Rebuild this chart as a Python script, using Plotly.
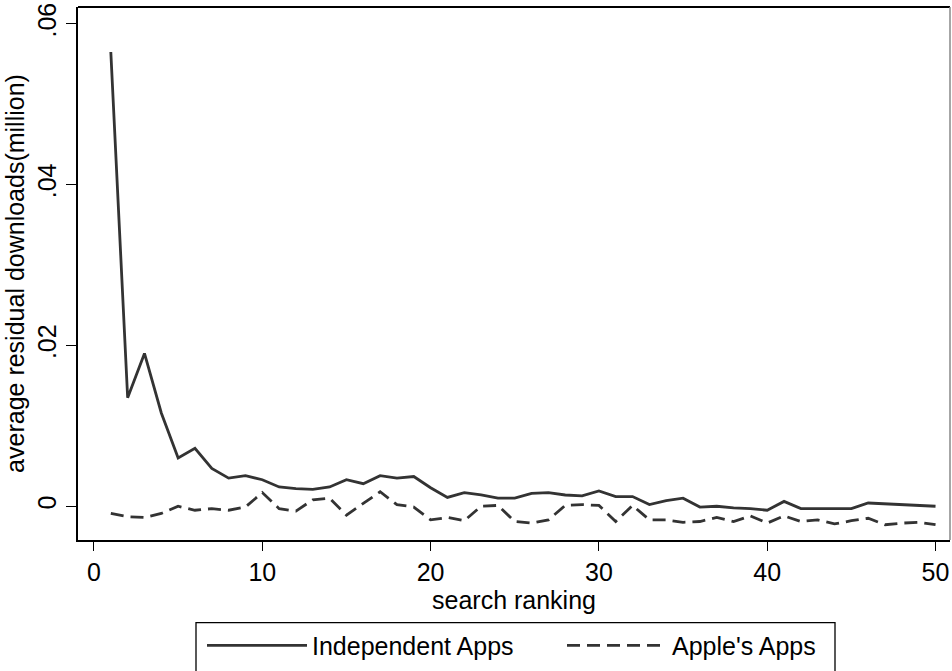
import plotly.graph_objects as go

ranking = list(range(1, 51))
independent = [0.0565, 0.0135, 0.0190, 0.0116, 0.0060, 0.0072, 0.0047, 0.0035, 0.0038, 0.0033,
               0.0024, 0.0022, 0.0021, 0.0024, 0.0033, 0.0028, 0.0038, 0.0035, 0.0037, 0.0023,
               0.0011, 0.0017, 0.0014, 0.0010, 0.0010, 0.0016, 0.0017, 0.0014, 0.0013, 0.0019,
               0.0012, 0.0012, 0.0002, 0.0007, 0.0010, -0.0001, 0.0000, -0.0002, -0.0003, -0.0005,
               0.0006, -0.0003, -0.0003, -0.0003, -0.0003, 0.0004, 0.0003, 0.0002, 0.0001, 0.0000]
apple = [-0.0009, -0.0013, -0.0014, -0.0009, 0.0000, -0.0005, -0.0003, -0.0005, -0.0001, 0.0017,
         -0.0003, -0.0006, 0.0008, 0.0010, -0.0011, 0.0003, 0.0018, 0.0002, -0.0001, -0.0017,
         -0.0014, -0.0018, 0.0000, 0.0001, -0.0019, -0.0021, -0.0017, 0.0001, 0.0002, 0.0001,
         -0.0019, 0.0001, -0.0017, -0.0017, -0.0020, -0.0019, -0.0014, -0.0019, -0.0012, -0.0021,
         -0.0012, -0.0019, -0.0017, -0.0022, -0.0018, -0.0015, -0.0023, -0.0021, -0.0020, -0.0023]

x_ticks = [0, 10, 20, 30, 40, 50]
y_ticks = [0, 0.02, 0.04, 0.06]
y_ticktext = ["0", ".02", ".04", ".06"]

LINE = "#333333"
FONT = "Liberation Sans, Arial, Helvetica, sans-serif"
FS = 25

fig = go.Figure()
fig.add_trace(go.Scatter(x=ranking, y=independent, mode="lines", name="Independent Apps",
                         line=dict(color=LINE, width=2.8), legend="legend"))
fig.add_trace(go.Scatter(x=ranking, y=apple, mode="lines", name="Apple's Apps",
                         line=dict(color=LINE, width=2.8, dash="13px,7px"), legend="legend2"))

leg_common = dict(orientation="h", yanchor="top", y=-0.155, xanchor="left",
                  borderwidth=0, bgcolor="rgba(0,0,0,0)", font=dict(size=FS),
                  itemwidth=100, tracegroupgap=0)

fig.update_layout(
    width=952, height=671,
    margin=dict(l=78, r=2, t=7, b=128),
    paper_bgcolor="white", plot_bgcolor="white",
    font=dict(family=FONT, size=FS, color="black"),
    showlegend=True,
    legend=dict(x=(202 - 78) / 872, **leg_common),
    legend2=dict(x=(562 - 78) / 872, **leg_common),
    xaxis=dict(range=[-0.95, 50.86], tickvals=x_ticks, ticks="outside", ticklen=9,
               tickwidth=1.3, tickcolor="black", showgrid=False, zeroline=False,
               showline=True, linecolor="black", linewidth=2, mirror=False,
               title=dict(text="search ranking", standoff=4, font=dict(size=FS))),
    yaxis=dict(range=[-0.0042, 0.0621], tickvals=y_ticks, ticktext=y_ticktext,
               tickangle=-90, ticks="outside", ticklen=10, tickwidth=1.3, tickcolor="black",
               showgrid=False, zeroline=False, showline=True, linecolor="black", linewidth=2,
               title=dict(text="average residual downloads(million)", standoff=1,
                          font=dict(size=FS))),
)
# plot-region border (top and right)
fig.add_shape(type="line", xref="paper", yref="paper", x0=0, x1=1, y0=1, y1=1,
              line=dict(color="black", width=2))
fig.add_shape(type="line", xref="paper", yref="paper", x0=1, x1=1, y0=0, y1=1,
              line=dict(color="#888888", width=1.5))
# legend box
fig.add_shape(type="rect", xref="paper", yref="paper",
              x0=(196 - 78) / 872, x1=(835 - 78) / 872, y0=-0.26, y1=(543 - 626) / 536,
              line=dict(color="black", width=1.3), fillcolor="rgba(0,0,0,0)")

fig.write_html("out.html")
